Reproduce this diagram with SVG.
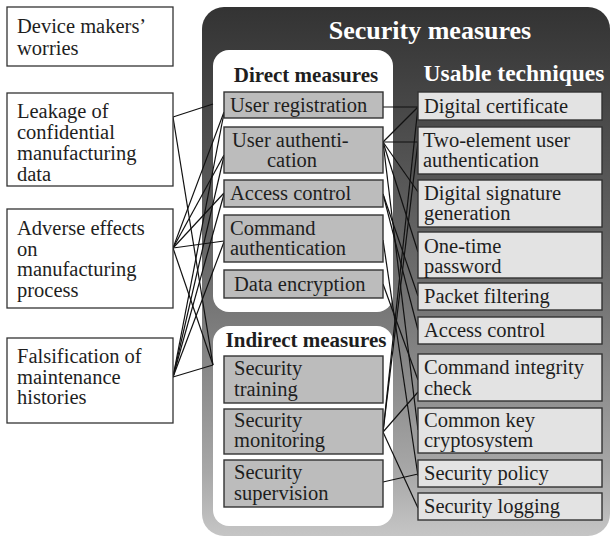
<svg xmlns="http://www.w3.org/2000/svg" width="612" height="537" viewBox="0 0 612 537">
<defs>
<linearGradient id="pg" gradientUnits="userSpaceOnUse" x1="0" y1="7" x2="0" y2="537">
<stop offset="0" stop-color="#333"/>
<stop offset="0.25" stop-color="#4e4e4e"/>
<stop offset="0.5" stop-color="#6c6c6c"/>
<stop offset="0.72" stop-color="#8e8e8e"/>
<stop offset="0.88" stop-color="#a8a8a8"/>
<stop offset="1" stop-color="#c6c6c6"/>
</linearGradient>
</defs>
<style>
text{font-family:"Liberation Serif","Times New Roman",serif;font-size:20.5px;fill:#1e1e1e}
.w rect{fill:#fff;stroke:#333;stroke-width:1.3}
.d rect{fill:#bcbcbc;stroke:#333;stroke-width:1.4}
.t rect{fill:#e3e3e3;stroke:#333;stroke-width:1.4}
.h{font-weight:bold;font-size:21px}
.ttl{font-weight:bold;fill:#fff}
#connectors line{stroke:#111;stroke-width:1.2}
</style>
<rect width="612" height="537" fill="#fff"/>

<g id="panel">
<rect x="202" y="7" width="408" height="529" rx="22" fill="url(#pg)"/>
<text class="ttl" x="430" y="39" text-anchor="middle" style="font-size:26px">Security measures</text>
<text class="ttl" x="514" y="81" text-anchor="middle" style="font-size:23.5px">Usable techniques</text>
</g>
<g id="direct-group">
<rect x="213" y="50" width="180" height="262" rx="16" fill="#fff"/>
<text class="h" x="306" y="82" text-anchor="middle">Direct measures</text>
</g>
<g id="indirect-group">
<rect x="213" y="326" width="180" height="200" rx="16" fill="#fff"/>
<text class="h" x="306" y="347" text-anchor="middle">Indirect measures</text>
</g>

<g id="connectors">
<line x1="173" y1="117" x2="213" y2="104"/>
<line x1="173" y1="117" x2="213" y2="365"/>
<line x1="173" y1="248" x2="224" y2="112"/>
<line x1="173" y1="248" x2="224" y2="155"/>
<line x1="173" y1="248" x2="224" y2="193"/>
<line x1="173" y1="248" x2="224" y2="241"/>
<line x1="173" y1="248" x2="213" y2="365"/>
<line x1="173" y1="377" x2="224" y2="113"/>
<line x1="173" y1="377" x2="224" y2="156"/>
<line x1="173" y1="377" x2="224" y2="194"/>
<line x1="173" y1="377" x2="224" y2="242"/>
<line x1="173" y1="377" x2="213" y2="365"/>

<line x1="383" y1="107" x2="418" y2="107"/>
<line x1="383" y1="142" x2="418" y2="107"/>
<line x1="383" y1="142" x2="418" y2="142"/>
<line x1="383" y1="142" x2="418" y2="192"/>
<line x1="383" y1="142" x2="418" y2="252"/>
<line x1="383" y1="142" x2="418" y2="430"/>
<line x1="383" y1="194" x2="418" y2="296"/>
<line x1="383" y1="194" x2="418" y2="330"/>
<line x1="383" y1="240" x2="418" y2="476"/>
<line x1="383" y1="284" x2="418" y2="380"/>
<line x1="383" y1="432" x2="418" y2="107"/>
<line x1="383" y1="432" x2="418" y2="142"/>
<line x1="383" y1="432" x2="418" y2="392"/>
<line x1="383" y1="432" x2="418" y2="508"/>
<line x1="383" y1="482" x2="418" y2="474"/>
</g>

<g id="worries" class="w"><rect x="7" y="7" width="166" height="59"/>
<text x="17" y="33">Device makers’</text><text x="17" y="55">worries</text></g>
<g id="leakage" class="w"><rect x="7" y="93" width="166" height="93"/>
<text x="17" y="118">Leakage of</text><text x="17" y="139">confidential</text><text x="17" y="160">manufacturing</text><text x="17" y="181">data</text></g>
<g id="adverse" class="w"><rect x="7" y="209" width="166" height="99"/>
<text x="17" y="235">Adverse effects</text><text x="17" y="255.5">on</text><text x="17" y="276">manufacturing</text><text x="17" y="296.5">process</text></g>
<g id="falsification" class="w"><rect x="7" y="338" width="166" height="85"/>
<text x="17" y="363">Falsification of</text><text x="17" y="384">maintenance</text><text x="17" y="404">histories</text></g>

<g id="user-registration" class="d"><rect x="224" y="92" width="159" height="26"/><text x="230" y="112">User registration</text></g>
<g id="user-authentication" class="d"><rect x="224" y="127" width="159" height="46"/><text x="232" y="147">User authenti-</text><text x="267" y="167">cation</text></g>
<g id="access-control" class="d"><rect x="224" y="180" width="159" height="27"/><text x="230" y="200">Access control</text></g>
<g id="command-authentication" class="d"><rect x="224" y="215" width="159" height="47"/><text x="230" y="235">Command</text><text x="230" y="255">authentication</text></g>
<g id="data-encryption" class="d"><rect x="224" y="270" width="159" height="28"/><text x="234" y="291">Data encryption</text></g>
<g id="security-training" class="d"><rect x="224" y="356" width="159" height="47"/><text x="234" y="375">Security</text><text x="234" y="396">training</text></g>
<g id="security-monitoring" class="d"><rect x="224" y="409" width="159" height="45"/><text x="234" y="427">Security</text><text x="234" y="447">monitoring</text></g>
<g id="security-supervision" class="d"><rect x="224" y="460" width="159" height="47"/><text x="234" y="479">Security</text><text x="234" y="500">supervision</text></g>

<g id="digital-certificate" class="t"><rect x="418" y="92" width="184" height="28"/><text x="424" y="113">Digital certificate</text></g>
<g id="two-element" class="t"><rect x="418" y="127" width="184" height="47"/><text x="423" y="147">Two-element user</text><text x="423" y="167">authentication</text></g>
<g id="digital-signature" class="t"><rect x="418" y="180" width="184" height="47"/><text x="424" y="200">Digital signature</text><text x="424" y="220">generation</text></g>
<g id="one-time-password" class="t"><rect x="418" y="232" width="184" height="46"/><text x="424" y="253">One-time</text><text x="424" y="273">password</text></g>
<g id="packet-filtering" class="t"><rect x="418" y="283" width="184" height="27"/><text x="424" y="303">Packet filtering</text></g>
<g id="access-control-t" class="t"><rect x="418" y="317" width="184" height="27"/><text x="424" y="337">Access control</text></g>
<g id="command-integrity" class="t"><rect x="418" y="354" width="184" height="47"/><text x="424" y="374">Command integrity</text><text x="424" y="395">check</text></g>
<g id="common-key" class="t"><rect x="418" y="408" width="184" height="45"/><text x="424" y="427">Common key</text><text x="424" y="447">cryptosystem</text></g>
<g id="security-policy" class="t"><rect x="418" y="460" width="184" height="27"/><text x="424" y="480">Security policy</text></g>
<g id="security-logging" class="t"><rect x="418" y="493" width="184" height="27"/><text x="424" y="513">Security logging</text></g>
</svg>
